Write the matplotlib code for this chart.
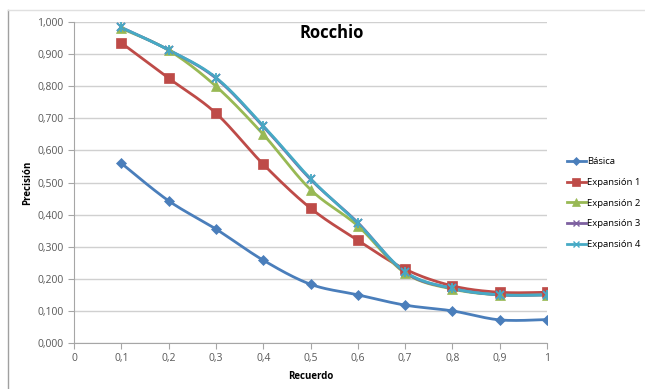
import numpy as np
import matplotlib
matplotlib.use("Agg")
import matplotlib.pyplot as plt
from matplotlib.lines import Line2D

recall = [0.1, 0.2, 0.3, 0.4, 0.5, 0.6, 0.7, 0.8, 0.9, 1.0]
basica = [0.560, 0.443, 0.355, 0.258, 0.183, 0.150, 0.118, 0.100, 0.072, 0.073]
exp1 = [0.935, 0.825, 0.716, 0.557, 0.420, 0.320, 0.230, 0.178, 0.158, 0.158]
exp2 = [0.980, 0.912, 0.800, 0.650, 0.478, 0.365, 0.218, 0.168, 0.150, 0.150]
exp3 = [0.983, 0.913, 0.825, 0.675, 0.510, 0.375, 0.220, 0.170, 0.150, 0.150]
exp4 = [0.983, 0.913, 0.827, 0.677, 0.512, 0.373, 0.222, 0.170, 0.150, 0.150]
names = ["Básica", "Expansión 1", "Expansión 2", "Expansión 3", "Expansión 4"]
xticks = [0, 0.1, 0.2, 0.3, 0.4, 0.5, 0.6, 0.7, 0.8, 0.9, 1.0]
xticklabels = ["0", "0,1", "0,2", "0,3", "0,4", "0,5", "0,6", "0,7", "0,8", "0,9", "1"]
yticks = [0.0, 0.1, 0.2, 0.3, 0.4, 0.5, 0.6, 0.7, 0.8, 0.9, 1.0]

colors = ["#4A7EBB", "#BE4B48", "#98B954", "#7D60A0", "#46AAC5"]
markers = ["D", "s", "^", "x", "*"]
msizes = [5, 7, 7, 6, 7]

plt.rcParams['font.family'] = ['Open Sans', 'DejaVu Sans']


def smooth(x, y, n=20):
    # Excel-like smoothing: Catmull-Rom style cubic Bezier between points
    x = np.asarray(x, float)
    y = np.asarray(y, float)
    px = np.concatenate([[x[0]], x, [x[-1]]])
    py = np.concatenate([[y[0]], y, [y[-1]]])
    xs, ys = [], []
    t = np.linspace(0, 1, n)
    for i in range(1, len(px) - 2):
        p0 = np.array([px[i], py[i]])
        p3 = np.array([px[i + 1], py[i + 1]])
        p1 = p0 + (np.array([px[i + 1], py[i + 1]]) - np.array([px[i - 1], py[i - 1]])) / 6
        p2 = p3 - (np.array([px[i + 2], py[i + 2]]) - np.array([px[i], py[i]])) / 6
        b = ((1 - t) ** 3)[:, None] * p0 + (3 * (1 - t) ** 2 * t)[:, None] * p1 \
            + (3 * (1 - t) * t ** 2)[:, None] * p2 + (t ** 3)[:, None] * p3
        xs.extend(b[:, 0])
        ys.extend(b[:, 1])
    return xs, ys


fig = plt.figure(figsize=(6.45, 3.89), dpi=100)
ax = fig.add_axes([74 / 645, 1 - 343 / 389, (547 - 74) / 645, (343 - 22) / 389])

series = [basica, exp1, exp2, exp3, exp4]
handles = []
for s, c, m, ms, name in zip(series, colors, markers, msizes, names):
    sx, sy = smooth(recall, s)
    ax.plot(sx, sy, color=c, lw=2, zorder=3)
    mew = 1.3 if m in ("x", "*") else 0.5
    if m == "*":
        ax.plot(recall, s, linestyle="none", marker="x", ms=ms - 1, color=c, mew=mew, zorder=4)
        ax.plot(recall, s, linestyle="none", marker="|", ms=ms, color=c, mew=mew, zorder=4)
        h = Line2D([], [], color=c, lw=2, marker="x", ms=ms - 2, mew=1.0)
    else:
        ax.plot(recall, s, linestyle="none", marker=m, ms=ms, color=c, mec=c, mew=mew, zorder=4)
        h = Line2D([], [], color=c, lw=2, marker=m, ms=ms - 1 if m != "D" else 4, mec=c,
                   mew=1.0 if m == "x" else mew)
    handles.append(h)

ax.set_xlim(0, 1)
ax.set_ylim(0, 1)
ax.set_xticks(xticks)
ax.set_xticklabels(xticklabels)
ax.set_yticks(yticks)
ax.set_yticklabels([f"{v:.3f}".replace(".", ",") for v in yticks])
ax.tick_params(axis="both", labelsize=7.5, colors="#595959", length=4, width=0.8)
ax.tick_params(axis="both", color="#a6a6a6")
ax.grid(axis="y", color="#d0d0d0", lw=1)
ax.set_axisbelow(True)
for sp in ["top", "right"]:
    ax.spines[sp].set_visible(False)
for sp in ["left", "bottom"]:
    ax.spines[sp].set_color("#a6a6a6")
    ax.spines[sp].set_linewidth(0.8)

ax.text(0.545, 0.965, "Rocchio", transform=ax.transAxes, ha="center", va="center",
        fontsize=12, fontweight="bold", color="black")
ax.set_xlabel("Recuerdo", fontsize=7, fontweight="bold", labelpad=5)
ax.set_ylabel("Precisión", fontsize=7, fontweight="bold", labelpad=3)

fig.legend(handles, names, loc="upper left", bbox_to_anchor=(567 / 645, 1 - 157 / 389),
           frameon=False, fontsize=6.8, handlelength=2.0, handletextpad=0.15,
           labelspacing=1.25, borderaxespad=0, borderpad=0)

fig.add_artist(Line2D([8 / 645, 8 / 645], [0, 1 - 10 / 389], transform=fig.transFigure,
                      color="#a0a0a0", lw=1))
fig.add_artist(Line2D([8 / 645, 1], [1 - 10 / 389, 1 - 10 / 389], transform=fig.transFigure,
                      color="#e0e0e0", lw=1))

fig.savefig("out.png", dpi=100)
